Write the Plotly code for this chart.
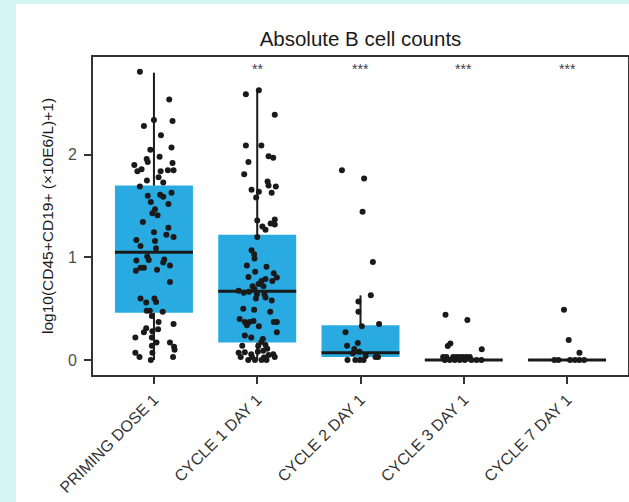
import plotly.graph_objects as go

# Time points
categories = ["PRIMING DOSE 1", "CYCLE 1 DAY 1", "CYCLE 2 DAY 1", "CYCLE 3 DAY 1", "CYCLE 7 DAY 1"]
significance = ["", "**", "***", "***", "***"]

# Box summary per time point (log10 scale)
q1 = [0.46, 0.17, 0.03, 0.0, 0.0]
median = [1.05, 0.67, 0.07, 0.0, 0.0]
q3 = [1.70, 1.22, 0.34, 0.0, 0.0]
lower_whisker = [0.0, 0.0, 0.0, 0.0, 0.0]
upper_whisker = [2.80, 2.63, 0.63, 0.0, 0.0]

# Individual patient values and their horizontal jitter
priming_vals = [2.81, 2.54, 2.34, 2.33, 2.28, 2.19, 2.07, 2.05, 1.98, 1.96, 1.93, 1.90, 1.92, 1.84,
                1.86, 1.84, 1.85, 1.85, 1.78, 1.75, 1.73, 1.69, 1.63, 1.60, 1.61, 1.59, 1.54, 1.52,
                1.47, 1.43, 1.41, 1.345, 1.29, 1.245, 1.22, 1.20, 1.17, 1.16, 1.11, 1.09, 1.01, 0.975,
                0.97, 0.98, 0.95, 0.92, 0.90, 0.90, 0.87, 0.88, 0.76, 0.60, 0.60, 0.56, 0.565, 0.48,
                0.48, 0.47, 0.43, 0.37, 0.35, 0.31, 0.30, 0.27, 0.28, 0.22, 0.22, 0.17, 0.14, 0.17,
                0.13, 0.10, 0.07, 0.03, 0.07, 0.0, 0.03]
priming_jit = [-0.136, 0.148, 0.0, 0.18, -0.097, 0.068, 0.17, -0.035, 0.055, -0.07, -0.06, -0.19, 0.18,
               -0.16, -0.12, 0.065, 0.135, 0.19, 0.045, -0.068, 0.09, -0.136, 0.17, -0.06, 0.06, 0.09,
               -0.03, 0.14, 0.01, -0.015, 0.035, -0.107, 0.14, 0.0, 0.12, 0.19, -0.17, 0.01, -0.13,
               0.02, -0.065, -0.05, -0.17, 0.10, 0.09, 0.155, -0.13, -0.097, -0.175, 0.03, 0.155,
               -0.13, 0.005, -0.075, 0.02, -0.07, -0.04, 0.085, -0.02, 0.045, 0.19, -0.075, 0.04,
               -0.097, -0.015, -0.18, -0.02, 0.025, -0.02, 0.155, 0.195, 0.20, -0.18, -0.14, -0.015,
               -0.03, 0.185]

c1_vals = [2.59, 2.63, 2.39, 2.09, 2.09, 1.93, 1.985, 1.97, 1.81, 1.74, 1.70, 1.69, 1.66, 1.64, 1.63,
           1.585, 1.36, 1.37, 1.33, 1.30, 1.32, 1.27, 1.20, 1.07, 1.03, 0.99, 0.92, 0.91, 0.86, 0.845,
           0.81, 0.805, 0.79, 0.77, 0.77, 0.74, 0.72, 0.72, 0.69, 0.675, 0.655, 0.665, 0.64, 0.64,
           0.61, 0.60, 0.58, 0.50, 0.49, 0.47, 0.40, 0.37, 0.37, 0.38, 0.37, 0.37, 0.34, 0.33, 0.27,
           0.24, 0.22, 0.205, 0.175, 0.146, 0.14, 0.136, 0.11, 0.07, 0.075, 0.055, 0.08, 0.09, 0.055,
           0.03, 0.0, 0.0, 0.0, 0.0, 0.03, 0.05, 0.025, 0.03]
c1_jit = [-0.11, 0.016, 0.17, -0.11, 0.04, -0.085, 0.11, 0.155, -0.126, 0.10, 0.11, 0.18, -0.055, 0.016,
          0.14, -0.01, 0.0, 0.17, 0.13, 0.05, 0.17, 0.08, 0.0, -0.055, -0.03, -0.026, -0.10, 0.09,
          -0.02, 0.16, -0.085, 0.19, 0.08, 0.04, 0.146, 0.013, -0.045, 0.06, -0.026, -0.18, -0.13,
          -0.08, -0.003, 0.07, 0.08, -0.013, 0.14, -0.135, -0.03, 0.126, -0.17, -0.12, -0.075,
          -0.036, 0.16, 0.19, -0.10, 0.016, 0.19, -0.12, -0.058, 0.055, 0.04, 0.08, -0.145, 0.01,
          0.097, -0.18, -0.12, -0.058, 0.006, 0.058, 0.155, -0.16, -0.087, -0.022, 0.042, 0.09,
          -0.05, 0.11, 0.065, 0.17]

c2_vals = [1.85, 1.77, 1.445, 0.955, 0.63, 0.57, 0.47, 0.35, 0.33, 0.27, 0.14, 0.165, 0.107, 0.065,
           0.08, 0.04, 0.03, 0.03, 0.0, 0.0, 0.0, 0.0]
c2_jit = [-0.18, 0.035, 0.02, 0.12, 0.10, -0.02, -0.02, 0.18, 0.013, -0.145, -0.13, -0.026, -0.06,
          -0.075, -0.01, 0.05, 0.145, 0.17, -0.126, -0.05, -0.007, 0.03]

c3_vals = [0.44, 0.39, 0.136, 0.16, 0.104, 0.03, 0.03, 0.03, 0.03, 0.03, 0.03, 0.03, 0.03,
           0.0, 0.0, 0.0, 0.0, 0.0, 0.0, 0.0, 0.0]
c3_jit = [-0.177, 0.035, -0.155, -0.13, 0.174, -0.20, -0.168, -0.103, -0.071, -0.039, -0.006, 0.026,
          0.058, -0.184, -0.136, -0.087, -0.039, 0.01, 0.074, 0.123, 0.171]

c7_vals = [0.49, 0.195, 0.07, 0.0, 0.0, 0.0, 0.0, 0.0, 0.0]
c7_jit = [-0.03, 0.016, 0.12, -0.123, -0.084, 0.029, 0.077, 0.119, 0.165]

group_vals = [priming_vals, c1_vals, c2_vals, c3_vals, c7_vals]
group_jit = [priming_jit, c1_jit, c2_jit, c3_jit, c7_jit]

BOX_W = 0.755
BLUE = "#29abe2"
INK = "#1a1a1a"
FONT = "Liberation Sans, Arial, Helvetica"

fig = go.Figure()

# Boxes (Q1 to Q3)
fig.add_trace(go.Bar(
    x=list(range(len(categories))),
    y=[b - a for a, b in zip(q1, q3)],
    base=q1,
    width=BOX_W,
    marker=dict(color=BLUE, line=dict(width=0)),
    hoverinfo="skip",
))

# Whiskers
wx, wy = [], []
for i in range(len(categories)):
    wx += [i, i, None, i, i, None]
    wy += [lower_whisker[i], q1[i], None, q3[i], upper_whisker[i], None]
fig.add_trace(go.Scatter(x=wx, y=wy, mode="lines",
                         line=dict(color=INK, width=2), hoverinfo="skip"))

# Median bars
mx, my = [], []
for i in range(len(categories)):
    mx += [i - BOX_W / 2, i + BOX_W / 2, None]
    my += [median[i], median[i], None]
fig.add_trace(go.Scatter(x=mx, y=my, mode="lines",
                         line=dict(color=INK, width=3), hoverinfo="skip"))

# Jittered individual points
px, py = [], []
for i, (vals, jit) in enumerate(zip(group_vals, group_jit)):
    px += [i + j for j in jit]
    py += vals
fig.add_trace(go.Scatter(x=px, y=py, mode="markers",
                         marker=dict(color=INK, size=6, line=dict(width=0))))

# Significance markers
for i, s in enumerate(significance):
    if s:
        fig.add_annotation(x=i, y=2.835, text=s, showarrow=False, yanchor="middle",
                           font=dict(size=14, color="#3a3a4a", family=FONT))

# Y axis title
fig.add_annotation(xref="paper", yref="paper", x=-0.086, y=0.5, xanchor="center", yanchor="middle",
                   text="log10(CD45+CD19+ (×10E6/L)+1)", textangle=-90, showarrow=False,
                   font=dict(size=15.5, color="#1a1a1a",
                             family="Liberation Sans Narrow, Arial Narrow, " + FONT))

# Page background: cyan band on left/top, white card
fig.add_shape(type="rect", xref="paper", yref="paper",
              x0=(16 - 93) / 535, x1=(640 - 93) / 535,
              y0=-0.5, y1=1 + (57 - 4) / 318,
              fillcolor="white", line=dict(width=0), layer="below")

fig.update_layout(
    width=629, height=502,
    margin=dict(l=93, r=1, t=57, b=127, autoexpand=False),
    paper_bgcolor="#d5f5f5",
    plot_bgcolor="white",
    showlegend=False,
    barmode="overlay",
    title=dict(text="Absolute B cell counts", x=0.5, xref="paper",
               y=1 - 39 / 502, yref="container", yanchor="middle", xanchor="center",
               font=dict(size=20.5, color="#1a1a1a", family=FONT)),
    xaxis=dict(
        range=[-0.59, 4.59], automargin=False,
        tickmode="array", tickvals=list(range(len(categories))), ticktext=categories,
        tickangle=-45, ticks="outside", ticklen=7, tickwidth=1.5, tickcolor="#333",
        tickfont=dict(size=16, color="#333", family=FONT),
        showline=True, linecolor="#333", linewidth=2, mirror=True,
        showgrid=False, zeroline=False,
    ),
    yaxis=dict(
        range=[-0.146, 2.953], automargin=False,
        tickmode="array", tickvals=[0, 1, 2], ticktext=["0", "1", "2"],
        ticks="outside", ticklen=7, tickwidth=1.5, tickcolor="#333",
        ticklabelstandoff=4,
        tickfont=dict(size=16, color="#4d4d4d", family=FONT),
        showline=True, linecolor="#333", linewidth=2, mirror=True,
        showgrid=False, zeroline=False,
    ),
)

fig.write_html("out.html")
